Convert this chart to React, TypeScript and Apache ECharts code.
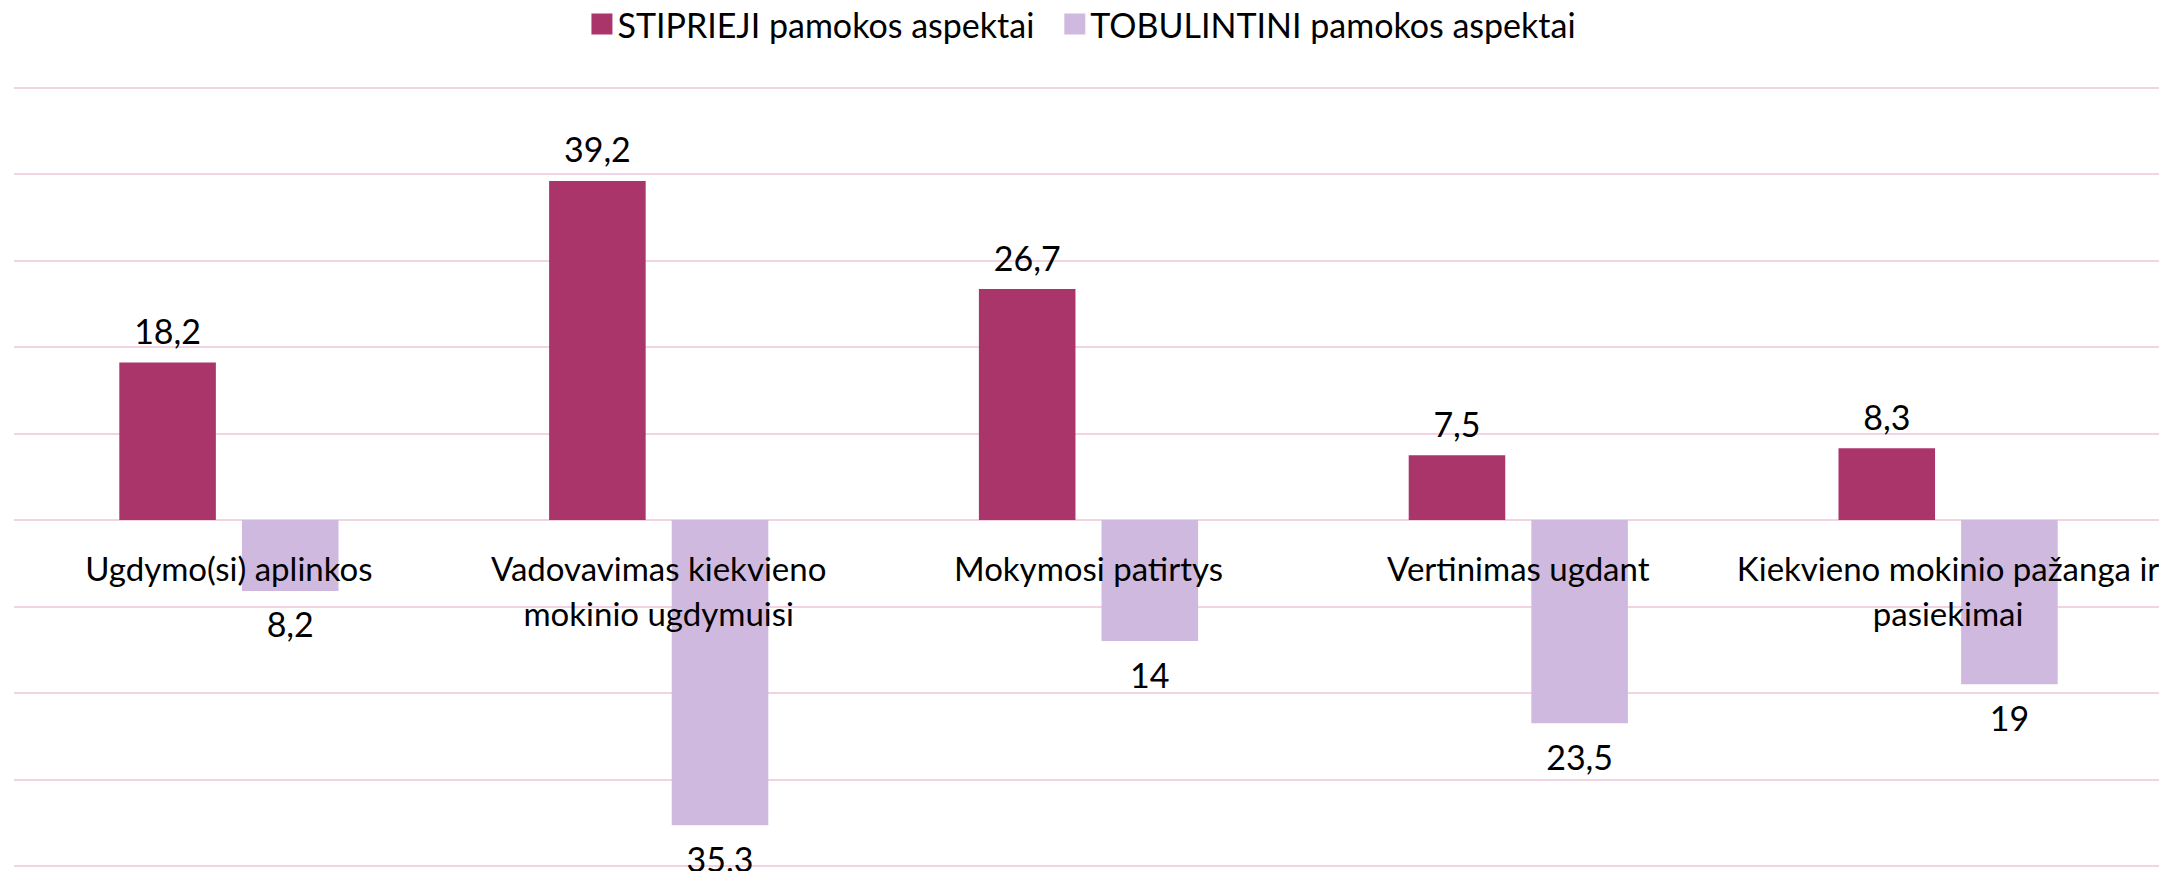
import React, { useEffect, useRef } from "react";
import * as echarts from "echarts";

const categories = [
  "Ugdymo(si) aplinkos",
  "Vadovavimas kiekvieno\nmokinio ugdymuisi",
  "Mokymosi patirtys",
  "Vertinimas ugdant",
  "Kiekvieno mokinio pažanga ir\npasiekimai",
];
const strongName = "STIPRIEJI pamokos aspektai";
const improveName = "TOBULINTINI pamokos aspektai";
const strongValues = [18.2, 39.2, 26.7, 7.5, 8.3];
const improveValues = [8.2, 35.3, 14, 23.5, 19];
const yMin = -40;
const yMax = 50;
const yInterval = 10;

const FONT = "Lato, 'Open Sans', sans-serif";
const FS = 34;
const GRID_COLOR = "#F2D3E3";
const fmt = (v: number) => String(Math.abs(v)).replace(".", ",");

const H = 879;
const GRID_TOP = 87.5;
const GRID_BOTTOM = 13;
// distance from the grid's bottom edge up to the zero line
const zeroOffset = ((0 - yMin) / (yMax - yMin)) * (H - GRID_TOP - GRID_BOTTOM);

export default function App() {
  const ref = useRef<HTMLDivElement>(null);
  useEffect(() => {
    if (!ref.current) return;
    const chart = echarts.init(ref.current, undefined, { renderer: "svg" });
    chart.setOption({
      animation: false,
      backgroundColor: "#ffffff",
      textStyle: { fontFamily: FONT },
      legend: {
        top: 2,
        left: "center",
        itemWidth: 21,
        itemHeight: 21,
        itemGap: 30,
        icon: "rect",
        textStyle: { fontFamily: FONT, fontSize: FS, color: "#000" },
        data: [strongName, improveName],
      },
      grid: {
        left: 14,
        right: 4,
        top: GRID_TOP,
        bottom: GRID_BOTTOM,
        containLabel: false,
        outerBoundsMode: "none",
      },
      xAxis: {
        type: "category",
        data: categories,
        position: "bottom",
        offset: -zeroOffset,
        axisLine: { show: false, onZero: false },
        axisTick: { show: false },
        axisLabel: {
          interval: 0,
          margin: 25,
          fontFamily: FONT,
          fontSize: 33,
          lineHeight: 45,
          color: "#000",
          align: "center",
        },
        z: 10,
      },
      yAxis: {
        type: "value",
        min: yMin,
        max: yMax,
        interval: yInterval,
        axisLabel: { show: false },
        axisLine: { show: false },
        axisTick: { show: false },
        splitLine: { lineStyle: { color: GRID_COLOR, width: 2 } },
      },
      series: [
        {
          name: strongName,
          type: "bar",
          data: strongValues,
          barGap: "27%",
          barCategoryGap: "49%",
          itemStyle: { color: "#A9356B" },
          label: {
            show: true,
            position: "top",
            distance: 15,
            fontFamily: FONT,
            fontSize: FS,
            lineHeight: 34,
            color: "#000",
            formatter: (p: any) => fmt(p.value),
          },
        },
        {
          name: improveName,
          type: "bar",
          data: improveValues.map((v) => -v),
          barGap: "27%",
          barCategoryGap: "49%",
          itemStyle: { color: "#CFB9DF" },
          label: {
            show: true,
            position: "bottom",
            distance: 16,
            fontFamily: FONT,
            fontSize: FS,
            lineHeight: 34,
            color: "#000",
            formatter: (p: any) => fmt(p.value),
          },
        },
      ],
    });
    return () => chart.dispose();
  }, []);
  return <div ref={ref} style={{ width: 2167, height: 879, margin: -8 }} />;
}
